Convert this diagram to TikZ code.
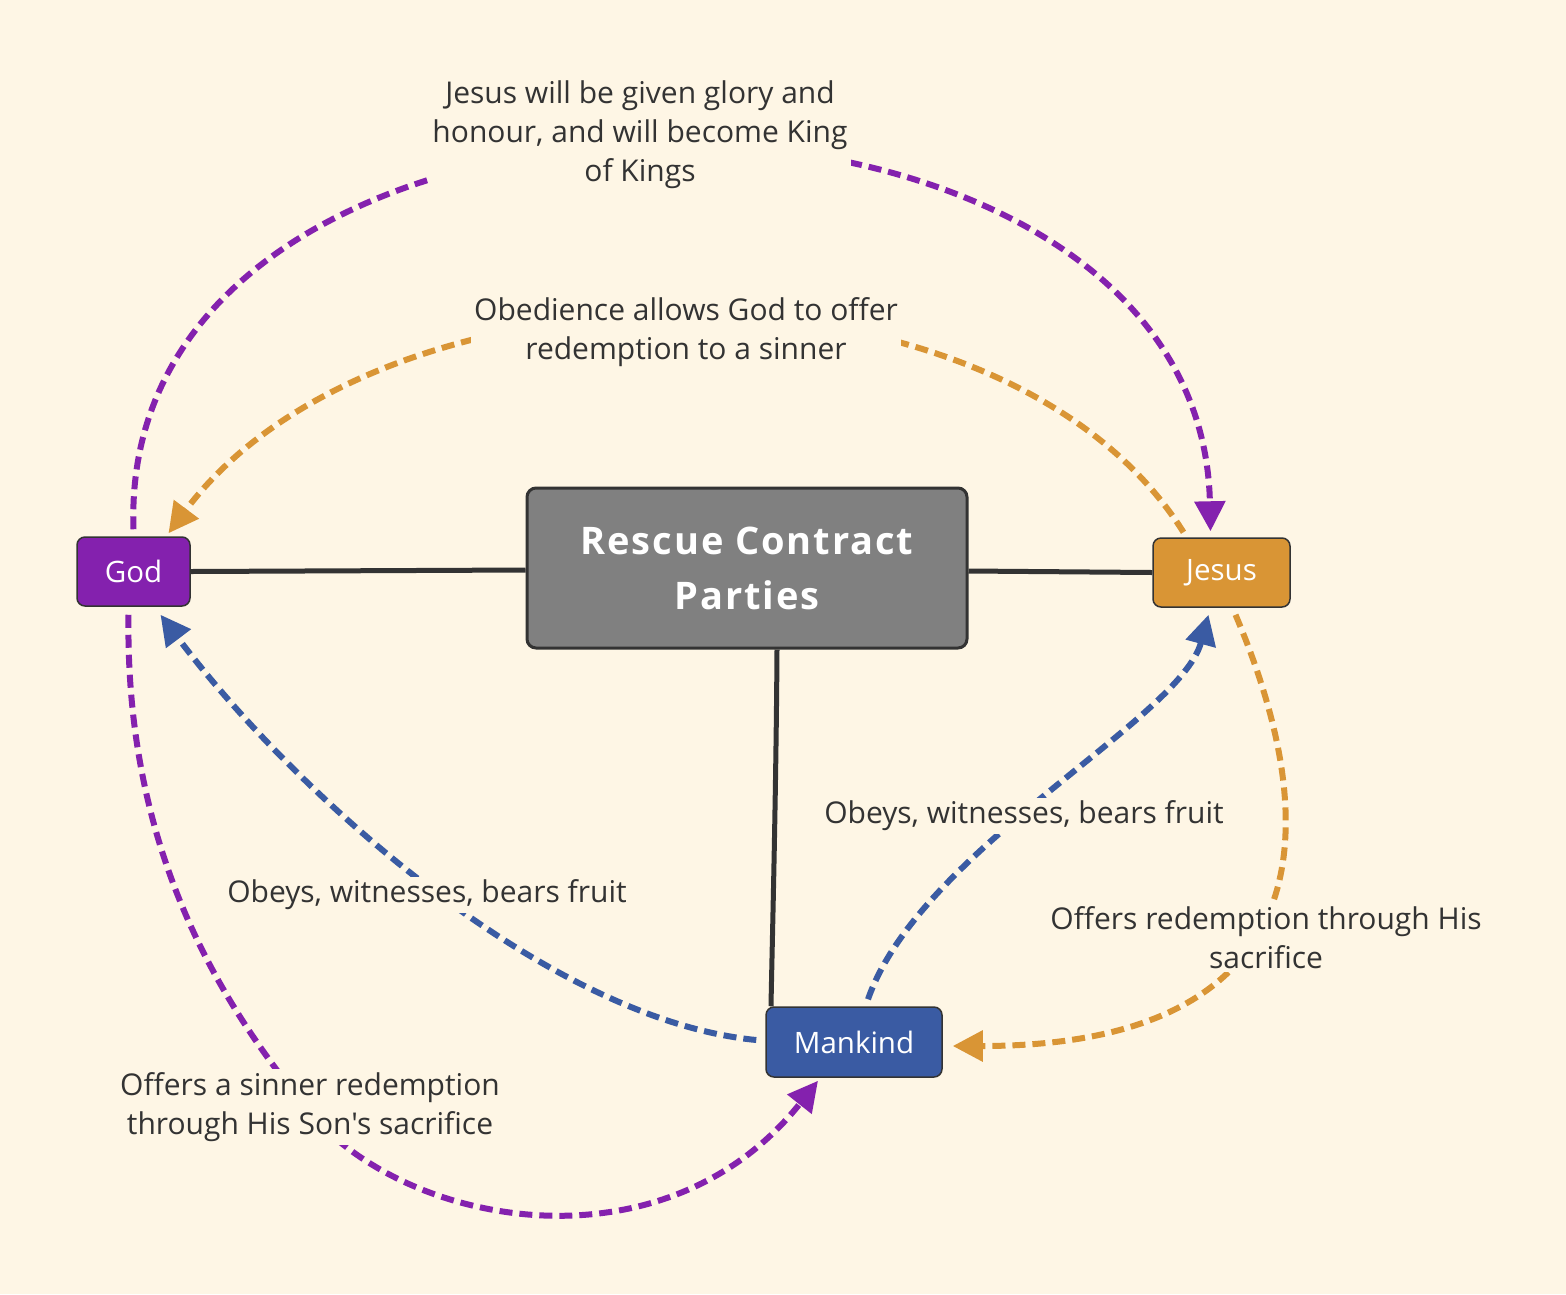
\documentclass[tikz,border=0pt]{standalone}
\usepackage{fontspec}
\newfontfamily\diafont{Open Sans}[Ligatures=NoCommon]
\newfontfamily\diatitle{Open Sans}[Ligatures=NoCommon, LetterSpace=5]
\usetikzlibrary{arrows.meta,calc}
\definecolor{bg}{HTML}{FEF6E5}
\definecolor{cpurple}{HTML}{8421AE}
\definecolor{corange}{HTML}{D99535}
\definecolor{cblue}{HTML}{3A5BA3}
\definecolor{cdark}{HTML}{333333}
\definecolor{cgray}{HTML}{808080}
\tikzset{
  party/.style={draw=cdark, line width=1.5pt, rounded corners=8pt, text=white, font=\diafont\fontsize{29.5}{32}\selectfont, inner sep=0pt},
  hub/.style={draw=cdark, line width=3pt, rounded corners=9pt, fill=cgray, text=white, font=\diatitle\fontsize{38}{55}\selectfont\bfseries, align=center, minimum width=440pt, minimum height=160pt},
  link/.style={draw=cdark, line width=5pt},
  flow/.style={line width=6pt, dash pattern=on 13pt off 7pt, -{Triangle[length=30pt,width=30pt]}},
  lbl/.style={fill=bg, text=cdark, font=\diafont\fontsize{30}{39}\selectfont, align=center, inner sep=3pt}
}
\begin{document}
\begin{tikzpicture}[x=1pt,y=-1pt]
\fill[bg] (0,0) rectangle (1566,1294);
\useasboundingbox (0,0) rectangle (1566,1294);

\node[party, fill=cpurple, minimum width=113pt, minimum height=69pt] (god) at (133.5,571.5) {God};
\node[party, fill=corange, minimum width=137pt, minimum height=69pt] (jesus) at (1221.5,572.5) {Jesus};
\node[party, fill=cblue, minimum width=176pt, minimum height=70pt] (mankind) at (854,1042) {Mankind};
\node[hub] (hub) at (747,568) {Rescue Contract\\Parties};

% solid links
\draw[link] (god.east) -- (hub.west |- 0,570);
\draw[link] (hub.east |- 0,571) -- (jesus.west);
\draw[link] ([xshift=30pt]hub.south) .. controls (776,800) and (772,950) .. ([xshift=-83pt]mankind.north);

% flows
\draw[flow, cpurple] ([yshift=7pt]god.north) .. controls (115,20) and (1200,20) .. ([xshift=-11pt,yshift=6pt]jesus.north);
\draw[flow, corange] ([xshift=-38pt,yshift=5pt]jesus.north) .. controls (1000,240) and (380,250) .. ([xshift=35pt,yshift=3pt]god.north);
\draw[flow, cblue] ([xshift=-9pt,yshift=2pt]mankind.west) .. controls (550,1020) and (300,800) .. ([xshift=27pt,yshift=-8pt]god.south);
\draw[flow, cblue] ([xshift=14pt,yshift=7pt]mankind.north) .. controls (920,850) and (1180,720) .. ([xshift=-13pt,yshift=-7pt]jesus.south);
\draw[flow, corange] ([xshift=14pt,yshift=-7pt]jesus.south) .. controls (1348,880) and (1275,1046) .. ([xshift=10pt,yshift=-4pt]mankind.east);
\draw[flow, cpurple] ([xshift=-5pt,yshift=-8pt]god.south) .. controls (125,850) and (220,1000) .. (300,1100) .. controls (390,1225) and (660,1280) .. ([xshift=-36pt,yshift=-3pt]mankind.south);

% labels
\node[lbl] (l1) at (640,135) {Jesus will be given glory and\\honour, and will become King\\of Kings};
\node[lbl] (l2) at (686,332) {Obedience allows God to offer\\redemption to a sinner};
\node[lbl] (l3) at (427,895) {Obeys, witnesses, bears fruit};
\node[lbl] (l4) at (1024,816) {Obeys, witnesses, bears fruit};
\node[lbl] (l5) at (1266,938) {Offers redemption through His\\sacrifice};
\node[lbl] (l6) at (310,1107) {Offers a sinner redemption\\through His Son's sacrifice};
\end{tikzpicture}
\end{document}
